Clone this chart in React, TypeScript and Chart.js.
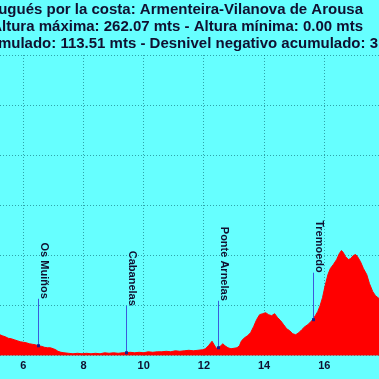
import { useEffect, useRef } from 'react';
import { Chart, registerables } from 'chart.js';

Chart.register(...registerables);

const titleLines = [
  'Camino Portugués por la costa: Armenteira-Vilanova de Arousa',
  'Altura máxima: 262.07 mts - Altura mínima: 0.00 mts',
  'Desnivel positivo acumulado: 113.51 mts - Desnivel negativo acumulado: 3',
];

const kmValues = [
  5.22, 5.3, 5.4, 5.5, 5.6, 5.7, 5.8, 5.9, 6.0, 6.1, 6.2, 6.3, 6.4, 6.5, 6.6, 6.7, 6.8, 6.9,
  7.0, 7.08, 7.15, 7.25, 7.35, 7.5, 7.65, 7.8, 7.95, 8.1, 8.25, 8.4, 8.55, 8.7, 8.85, 9.0,
  9.15, 9.3, 9.41, 9.55, 9.7, 9.85, 10.0, 10.15, 10.3, 10.45, 10.6, 10.75, 10.9, 11.05,
  11.2, 11.35, 11.5, 11.65, 11.8, 11.95, 12.05, 12.15, 12.27, 12.34, 12.41, 12.48, 12.56,
  12.63, 12.7, 12.8, 12.9, 13.0, 13.1, 13.18, 13.25, 13.35, 13.45, 13.55, 13.65, 13.75,
  13.85, 13.95, 14.05, 14.15, 14.25, 14.35, 14.45, 14.55, 14.65, 14.75, 14.85, 14.95,
  15.05, 15.15, 15.25, 15.35, 15.45, 15.55, 15.61, 15.7, 15.78, 15.86, 15.94, 16.02,
  16.12, 16.2, 16.3, 16.41, 16.5, 16.57, 16.63, 16.7, 16.8, 16.88, 16.96, 17.04, 17.1,
  17.2, 17.3, 17.41, 17.5, 17.61, 17.7, 17.82,
];

const elevValues = [
  21, 20, 19, 17.5, 17, 16, 15, 14, 13.5, 13, 12, 11.5, 11, 10, 9.5, 8.5, 8, 8,
  7, 6, 4.5, 3.5, 3, 2.5, 2, 2.5, 2, 2.5, 2, 2.5, 2, 3, 2.5, 3,
  2.5, 3, 3, 3.5, 3, 3.5, 3, 4, 3.5, 4, 4, 4.5, 4, 5,
  4.5, 5, 5.5, 5, 5.5, 6, 7, 10, 14.5, 11, 7.5, 8, 10,
  12, 10, 8, 7, 7.5, 8, 10, 15, 18, 20, 23, 29, 36,
  41, 42, 43, 41, 40, 42, 38, 35, 31, 27, 25, 22,
  21, 23, 26, 29, 31, 34, 36, 40, 44, 50, 58, 69,
  81, 87, 91, 96, 102, 105, 103, 99, 96, 97, 100, 101, 99,
  94, 87, 81, 72, 64, 60, 57,
];

const xTickValues = [6, 8, 10, 12, 14, 16];
const yTickValues = [0, 50, 100, 150, 200, 250, 300];

const waypointNames = ['Os Muiños', 'Cabanelas', 'Ponte Arnelas', 'Tremoedo'];
const waypointKm = [6.5, 9.41, 12.48, 15.61];
const waypointElev = [10, 3, 8, 36];

const FONT = '"Liberation Sans", Arial, sans-serif';
const BG = 'rgb(102,255,255)';
const TEXT = '#101030';
const GRID = 'rgba(0,90,100,0.55)';

const decorPlugin = {
  id: 'profileDecor',
  beforeDraw(chart: any) {
    const ctx = chart.ctx;
    ctx.save();
    ctx.fillStyle = BG;
    ctx.fillRect(0, 0, chart.width, chart.height);
    ctx.restore();
  },
  afterDraw(chart: any) {
    const ctx = chart.ctx;
    const xs = chart.scales.x;
    const ys = chart.scales.y;
    ctx.save();
    ctx.font = `bold 15px ${FONT}`;
    ctx.fillStyle = TEXT;
    ctx.textBaseline = 'alphabetic';
    ctx.textAlign = 'right';
    const rights = [363, 363, 378];
    const bases = [14, 30.5, 47.5];
    titleLines.forEach((t, i) => ctx.fillText(t, rights[i], bases[i]));

    ctx.font = `bold 11px ${FONT}`;
    waypointNames.forEach((name, i) => {
      const px = Math.round(xs.getPixelForValue(waypointKm[i])) + 0.5;
      const py = ys.getPixelForValue(waypointElev[i]);
      const top = py - 47;
      ctx.strokeStyle = '#3c5adc';
      ctx.lineWidth = 1;
      ctx.beginPath();
      ctx.moveTo(px, top);
      ctx.lineTo(px, py);
      ctx.stroke();
      ctx.fillStyle = '#1a1a8a';
      ctx.fillRect(px - 1.5, py - 1.5, 3, 3);
      ctx.save();
      ctx.translate(px, top);
      ctx.rotate(Math.PI / 2);
      ctx.textAlign = 'right';
      ctx.textBaseline = 'bottom';
      ctx.fillStyle = TEXT;
      ctx.fillText(name, 0, 0);
      ctx.restore();
    });
    ctx.restore();
  },
};

export default function App() {
  const ref = useRef<HTMLCanvasElement>(null);
  useEffect(() => {
    document.body.style.margin = '0';
    const canvas = ref.current;
    if (!canvas) return;
    const chart = new Chart(canvas, {
      type: 'line',
      data: {
        datasets: [
          {
            data: kmValues.map((k, i) => ({ x: k, y: elevValues[i] })),
            fill: 'origin',
            backgroundColor: '#ff0000',
            borderColor: '#ff0000',
            borderWidth: 1,
            pointRadius: 0,
            tension: 0,
          },
        ],
      },
      options: {
        responsive: false,
        animation: false,
        layout: { padding: { top: 55, bottom: 2, left: 0, right: 0 } },
        plugins: {
          legend: { display: false },
          tooltip: { enabled: false },
          title: { display: false },
        },
        scales: {
          x: {
            type: 'linear',
            min: 5.226,
            max: 17.817,
            z: 1,
            afterBuildTicks: (s: any) => {
              s.ticks = xTickValues.map((v) => ({ value: v }));
            },
            grid: { color: GRID, drawTicks: false },
            border: { display: false, dash: [1, 2] },
            ticks: {
              color: TEXT,
              font: { family: FONT, size: 11, weight: 'bold' },
              padding: 4,
              maxRotation: 0,
              autoSkip: false,
            },
          },
          y: {
            type: 'linear',
            min: 0,
            max: 300,
            z: 1,
            afterBuildTicks: (s: any) => {
              s.ticks = yTickValues.map((v) => ({ value: v }));
            },
            grid: { color: GRID, drawTicks: false },
            border: { display: false, dash: [1, 2] },
            ticks: { display: false },
          },
        },
      } as any,
      plugins: [decorPlugin],
    });
    return () => chart.destroy();
  }, []);
  return <canvas ref={ref} width={379} height={379} style={{ display: 'block' }} />;
}
